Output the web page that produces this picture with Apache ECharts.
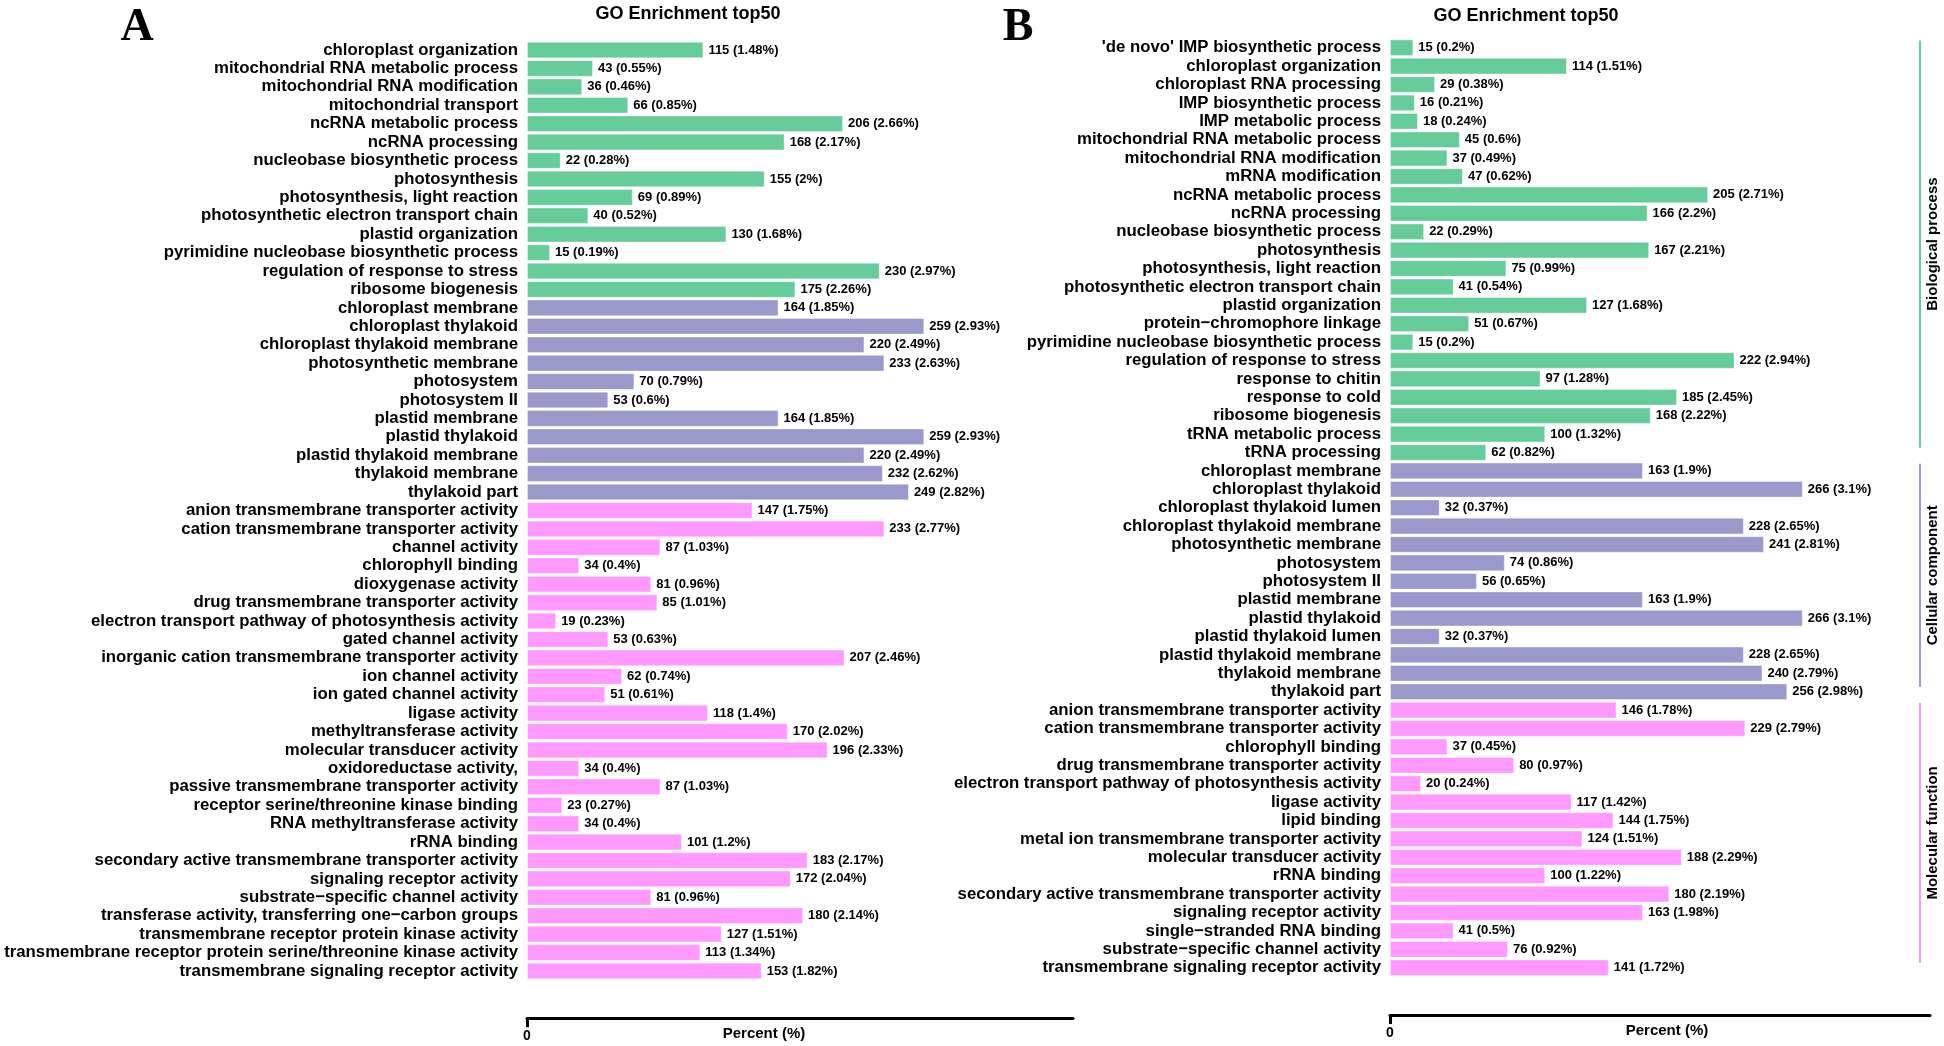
<!DOCTYPE html>
<html>
<head>
	<meta charset="utf-8">
	<title>GO Enrichment top50</title>
	<script src="https://cdn.jsdelivr.net/npm/echarts@6/dist/echarts.min.js"></script>
</head>
<body style="margin:0;background:#fff">
	<div id="main" style="width: 1944px;height: 1046px"></div>
	<script type="text/javascript">
		// ---- panel A ----
		var aBioNames = ['chloroplast organization', 'mitochondrial RNA metabolic process', 'mitochondrial RNA modification',
			'mitochondrial transport', 'ncRNA metabolic process', 'ncRNA processing', 'nucleobase biosynthetic process',
			'photosynthesis', 'photosynthesis, light reaction', 'photosynthetic electron transport chain',
			'plastid organization', 'pyrimidine nucleobase biosynthetic process', 'regulation of response to stress',
			'ribosome biogenesis'];
		var aBioCount = [115, 43, 36, 66, 206, 168, 22, 155, 69, 40, 130, 15, 230, 175];
		var aBioPct = [1.48, 0.55, 0.46, 0.85, 2.66, 2.17, 0.28, 2, 0.89, 0.52, 1.68, 0.19, 2.97, 2.26];

		var aCellNames = ['chloroplast membrane', 'chloroplast thylakoid', 'chloroplast thylakoid membrane',
			'photosynthetic membrane', 'photosystem', 'photosystem II', 'plastid membrane', 'plastid thylakoid',
			'plastid thylakoid membrane', 'thylakoid membrane', 'thylakoid part'];
		var aCellCount = [164, 259, 220, 233, 70, 53, 164, 259, 220, 232, 249];
		var aCellPct = [1.85, 2.93, 2.49, 2.63, 0.79, 0.6, 1.85, 2.93, 2.49, 2.62, 2.82];

		var aMolNames = ['anion transmembrane transporter activity', 'cation transmembrane transporter activity',
			'channel activity', 'chlorophyll binding', 'dioxygenase activity', 'drug transmembrane transporter activity',
			'electron transport pathway of photosynthesis activity', 'gated channel activity',
			'inorganic cation transmembrane transporter activity', 'ion channel activity', 'ion gated channel activity',
			'ligase activity', 'methyltransferase activity', 'molecular transducer activity', 'oxidoreductase activity,',
			'passive transmembrane transporter activity', 'receptor serine/threonine kinase binding',
			'RNA methyltransferase activity', 'rRNA binding', 'secondary active transmembrane transporter activity',
			'signaling receptor activity', 'substrate\u2212specific channel activity',
			'transferase activity, transferring one\u2212carbon groups', 'transmembrane receptor protein kinase activity',
			'transmembrane receptor protein serine/threonine kinase activity', 'transmembrane signaling receptor activity'];
		var aMolCount = [147, 233, 87, 34, 81, 85, 19, 53, 207, 62, 51, 118, 170, 196, 34, 87, 23, 34, 101, 183, 172, 81, 180, 127, 113, 153];
		var aMolPct = [1.75, 2.77, 1.03, 0.4, 0.96, 1.01, 0.23, 0.63, 2.46, 0.74, 0.61, 1.4, 2.02, 2.33, 0.4, 1.03, 0.27, 0.4, 1.2, 2.17, 2.04, 0.96, 2.14, 1.51, 1.34, 1.82];

		// ---- panel B ----
		var bBioNames = ["'de novo' IMP biosynthetic process", 'chloroplast organization', 'chloroplast RNA processing',
			'IMP biosynthetic process', 'IMP metabolic process', 'mitochondrial RNA metabolic process',
			'mitochondrial RNA modification', 'mRNA modification', 'ncRNA metabolic process', 'ncRNA processing',
			'nucleobase biosynthetic process', 'photosynthesis', 'photosynthesis, light reaction',
			'photosynthetic electron transport chain', 'plastid organization', 'protein\u2212chromophore linkage',
			'pyrimidine nucleobase biosynthetic process', 'regulation of response to stress', 'response to chitin',
			'response to cold', 'ribosome biogenesis', 'tRNA metabolic process', 'tRNA processing'];
		var bBioCount = [15, 114, 29, 16, 18, 45, 37, 47, 205, 166, 22, 167, 75, 41, 127, 51, 15, 222, 97, 185, 168, 100, 62];
		var bBioPct = [0.2, 1.51, 0.38, 0.21, 0.24, 0.6, 0.49, 0.62, 2.71, 2.2, 0.29, 2.21, 0.99, 0.54, 1.68, 0.67, 0.2, 2.94, 1.28, 2.45, 2.22, 1.32, 0.82];

		var bCellNames = ['chloroplast membrane', 'chloroplast thylakoid', 'chloroplast thylakoid lumen',
			'chloroplast thylakoid membrane', 'photosynthetic membrane', 'photosystem', 'photosystem II',
			'plastid membrane', 'plastid thylakoid', 'plastid thylakoid lumen', 'plastid thylakoid membrane',
			'thylakoid membrane', 'thylakoid part'];
		var bCellCount = [163, 266, 32, 228, 241, 74, 56, 163, 266, 32, 228, 240, 256];
		var bCellPct = [1.9, 3.1, 0.37, 2.65, 2.81, 0.86, 0.65, 1.9, 3.1, 0.37, 2.65, 2.79, 2.98];

		var bMolNames = ['anion transmembrane transporter activity', 'cation transmembrane transporter activity',
			'chlorophyll binding', 'drug transmembrane transporter activity',
			'electron transport pathway of photosynthesis activity', 'ligase activity', 'lipid binding',
			'metal ion transmembrane transporter activity', 'molecular transducer activity', 'rRNA binding',
			'secondary active transmembrane transporter activity', 'signaling receptor activity',
			'single\u2212stranded RNA binding', 'substrate\u2212specific channel activity',
			'transmembrane signaling receptor activity'];
		var bMolCount = [146, 229, 37, 80, 20, 117, 144, 124, 188, 100, 180, 163, 41, 76, 141];
		var bMolPct = [1.78, 2.79, 0.45, 0.97, 0.24, 1.42, 1.75, 1.51, 2.29, 1.22, 2.19, 1.98, 0.5, 0.92, 1.72];

		var groupNames = ['Biological process', 'Cellular component', 'Molecular function'];
		var groupColors = ['#66cc99', '#9999cc', '#ff99ff'];
		var font = '"Liberation Sans", Arial, sans-serif';

		// 把三类拼成一个面板
		function buildPanel(names, counts, pcts) {
			var p = {cats: [], vals: [], pct: [], grp: [], ranges: []};
			for (var g = 0; g < 3; g++) {
				var start = p.cats.length;
				p.cats = p.cats.concat(names[g]);
				p.vals = p.vals.concat(counts[g]);
				p.pct = p.pct.concat(pcts[g]);
				for (var i = 0; i < names[g].length; i++) p.grp.push(g);
				p.ranges.push([0, start, p.cats.length - 1, g]);
			}
			return p;
		}
		var panelA = buildPanel([aBioNames, aCellNames, aMolNames], [aBioCount, aCellCount, aMolCount], [aBioPct, aCellPct, aMolPct]);
		var panelB = buildPanel([bBioNames, bCellNames, bMolNames], [bBioCount, bCellCount, bMolCount], [bBioPct, bCellPct, bMolPct]);

		function xAxisOf(idx, max, namePad) {
			return {
				type: 'value', gridIndex: idx, min: 0, max: max, offset: 38,
				splitLine: {show: false},
				axisLine: {show: true, lineStyle: {color: '#000', width: 3}},
				axisTick: {show: true, customValues: [0], length: 9, lineStyle: {color: '#000', width: 3}},
				axisLabel: {customValues: [0], margin: 11, color: '#000', fontFamily: font, fontWeight: 'bold', fontSize: 14},
				name: 'Percent (%)', nameLocation: 'middle', nameGap: 8, nameMoveOverlap: false,
				nameTextStyle: {color: '#000', fontFamily: font, fontWeight: 'bold', fontSize: 15, padding: namePad}
			};
		}
		function yAxisOf(idx, panel) {
			return {
				type: 'category', gridIndex: idx, data: panel.cats, inverse: true,
				axisLine: {show: false}, axisTick: {show: false}, splitLine: {show: false},
				axisLabel: {margin: 9, color: '#000', fontFamily: font, fontWeight: 'bold', fontSize: 16.8, interval: 0}
			};
		}
		function barOf(idx, panel) {
			return {
				type: 'bar', xAxisIndex: idx, yAxisIndex: idx, data: panel.vals, barCategoryGap: '10%',
				itemStyle: {
					color: function (p) { return groupColors[panel.grp[p.dataIndex]]; },
					borderColor: 'rgba(255,255,255,0.35)', borderWidth: 1
				},
				label: {
					show: true, position: 'right', distance: 5, color: '#000',
					fontFamily: font, fontWeight: 'bold', fontSize: 13,
					formatter: function (p) { return p.value + ' (' + panel.pct[p.dataIndex] + '%)'; }
				},
				animation: false
			};
		}

		var myChart = echarts.init(document.getElementById('main'));
		var option = {
			backgroundColor: '#fff',
			animation: false,
			title: [
				{text: 'A', left: 132, top: 0, textAlign: 'center', textStyle: {fontFamily: '"Liberation Serif", serif', fontWeight: 'bold', fontSize: 46, color: '#000'}},
				{text: 'B', left: 1013, top: 0, textAlign: 'center', textStyle: {fontFamily: '"Liberation Serif", serif', fontWeight: 'bold', fontSize: 46, color: '#000'}},
				{text: 'GO Enrichment top50', left: 683, top: 0, textAlign: 'center', textStyle: {fontFamily: font, fontWeight: 'bold', fontSize: 18, color: '#000'}},
				{text: 'GO Enrichment top50', left: 1521, top: 2, textAlign: 'center', textStyle: {fontFamily: font, fontWeight: 'bold', fontSize: 18, color: '#000'}}
			],
			grid: [
				{left: 527, top: 40.8, width: 546, height: 939.4, outerBoundsMode: 'none', containLabel: false},
				{left: 1390, top: 38.5, width: 540, height: 938.4, outerBoundsMode: 'none', containLabel: false}
			],
			xAxis: [xAxisOf(0, 356, [0, 72, 0, 0]), xAxisOf(1, 348, [0, 0, 0, 14])],
			yAxis: [yAxisOf(0, panelA), yAxisOf(1, panelB)],
			series: [
				barOf(0, panelA),
				barOf(1, panelB),
				{
					// 右侧分类竖线和文字
					type: 'custom', xAxisIndex: 1, yAxisIndex: 1, data: panelB.ranges,
					encode: {x: 0, y: 1}, clip: false, silent: true,
					renderItem: function (params, api) {
						var band = api.size([0, 1])[1];
						var y1 = api.coord([0, api.value(1)])[1] - band / 2 + 2;
						var y2 = api.coord([0, api.value(2)])[1] + band / 2 - 14;
						var x = params.coordSys.x + params.coordSys.width - 10;
						var g = api.value(3);
						return {
							type: 'group',
							children: [
								{type: 'line', shape: {x1: x, y1: y1, x2: x, y2: y2}, style: {stroke: groupColors[g], lineWidth: 2}},
								{type: 'text', x: x + 13, y: (y1 + y2) / 2, rotation: Math.PI / 2,
									style: {text: groupNames[g], fill: '#000', font: 'bold 15px ' + font, align: 'center', verticalAlign: 'middle'}}
							]
						};
					},
					animation: false
				}
			]
		};
		myChart.setOption(option);
	</script>
</body>
</html>
